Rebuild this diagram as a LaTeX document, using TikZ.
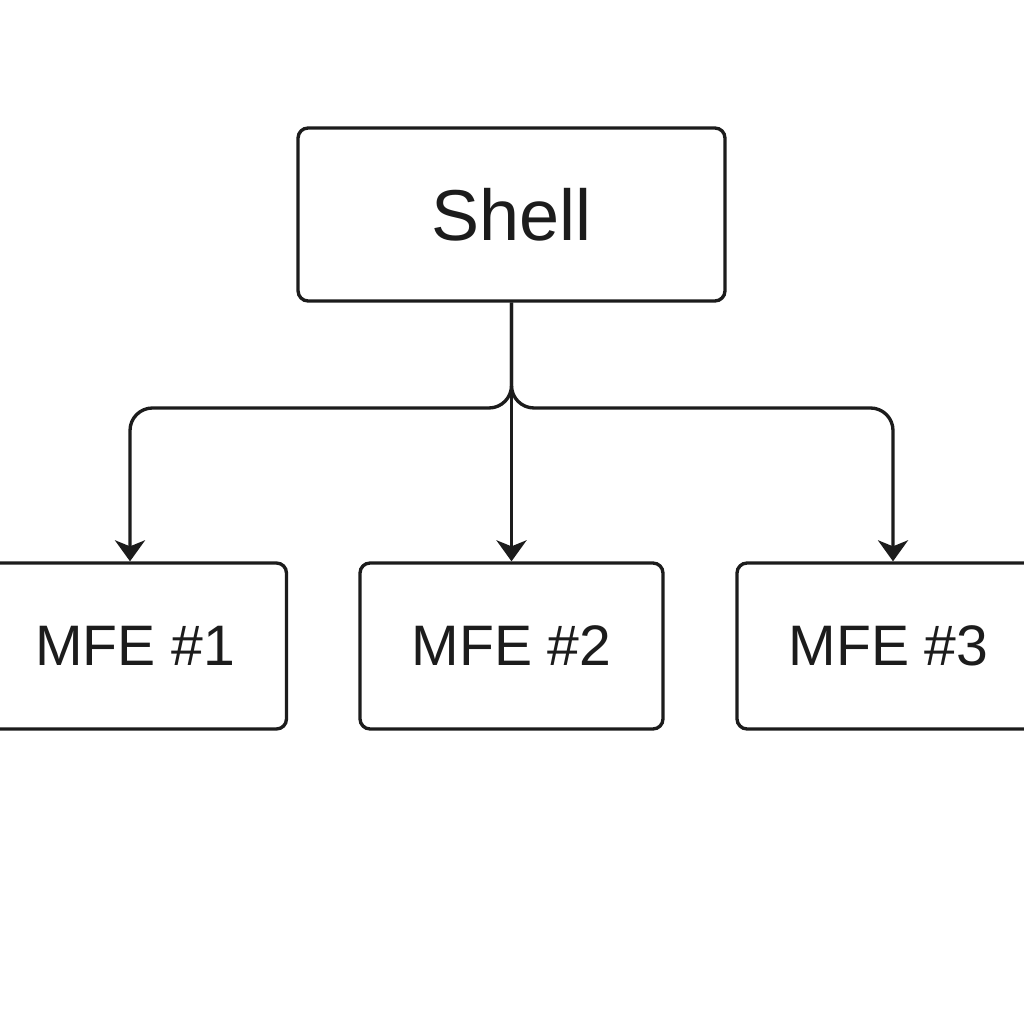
\documentclass[tikz,border=0pt]{standalone}
\usepackage{fontspec}
\setmainfont{Liberation Sans}
\usetikzlibrary{arrows.meta}

\begin{document}
\begin{tikzpicture}[x=.02cm, y=.02cm,
box/.style = {rectangle, draw=ink, rounded corners=.2cm, line width=1.9pt, fill=white, text=ink},
shellbox/.style = {box, minimum width=8.54cm, minimum height=3.46cm, font=\fontsize{41}{41}\selectfont},
mfebox/.style = {box, minimum width=6.06cm, minimum height=3.32cm, font=\fontsize{32.5}{32.5}\selectfont},
link/.style = {draw=ink, line width=1.9pt, rounded corners=.45cm},
tip/.style = {-{Stealth[length=.42cm, width=.6cm, inset=.12cm]}}]
\definecolor{ink}{HTML}{1C1C1C}
\useasboundingbox[fill=white] (0,0) rectangle (1024,1024);

\node[shellbox] (Shell) at (511.5,809.5) {Shell};
\node[mfebox] (M1) at (135,378) {MFE \#1};
\node[mfebox] (M2) at (511.5,378) {MFE \#2};
\node[mfebox] (M3) at (888.5,378) {MFE \#3};
\coordinate (fork) at (511.5,616);

\draw[link, tip] (Shell.south) -- (fork) -| ([xshift=-.1cm]M1.north);
\draw[link, tip] (Shell.south) -- (fork) -| ([xshift=.09cm]M3.north);
\draw[link, tip] (Shell.south) -- (M2.north);

\end{tikzpicture}
\end{document}
